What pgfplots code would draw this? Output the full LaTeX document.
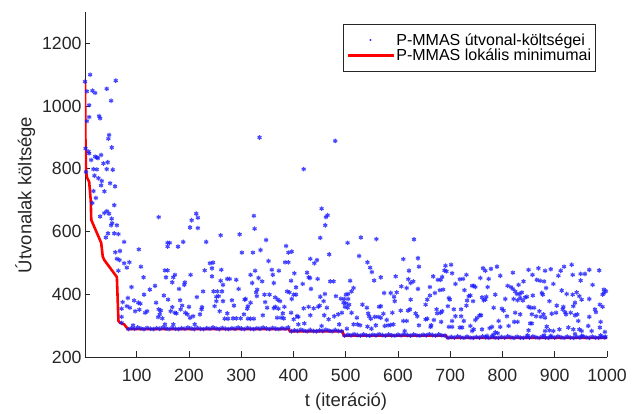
\documentclass[border=0pt]{standalone}
\usepackage{fontspec}
\setmainfont{Liberation Sans}
\usepackage{pgfplots}
\pgfplotsset{compat=1.18}
\definecolor{axgray}{RGB}{38,38,38}
\definecolor{ptblue}{RGB}{25,25,255}

\begin{document}
\begin{tikzpicture}
\begin{axis}[
    scale only axis,
    width=522pt, height=345pt,
    xmin=1, xmax=1000, ymin=200, ymax=1300,
    xtick={100,200,...,1000},
    ytick={200,400,...,1200},
    axis x line*=bottom, axis y line*=left,
    axis line style={-, draw=axgray, line width=0.9pt},
    tick align=inside,
    major tick length=5.5pt,
    tick style={draw=axgray, line width=0.9pt},
    /pgf/number format/assume math mode=true,
    /pgf/number format/1000 sep={},
    ticklabel style={font=\fontsize{17.7}{20}\selectfont, text=axgray},
    xticklabel style={yshift=-9pt},
    label style={font=\fontsize{18.5}{22}\selectfont, text=axgray},
    xlabel={t (iteráció)},
    xlabel style={yshift=-4pt},
    ylabel={Útvonalak költsége},
    ylabel style={at={(ticklabel cs:0.47)}},
    legend style={at={(1,1)}, anchor=north east, xshift=-11pt, yshift=-12pt,
        draw=axgray, line width=0.6pt, fill=white,
        font=\fontsize{16}{18}\selectfont,
        inner xsep=3pt, inner ysep=7.5pt, row sep=-1pt,
        nodes={inner sep=1.6pt}},
    legend cell align=left,
]
% path costs
\addplot[only marks, mark=asterisk, mark size=2.3pt, draw=ptblue, line width=1.1pt, opacity=0.8,
    legend image code/.code={\path[draw=none, fill=none] (0pt,0pt) -- (46pt,0pt); \fill[blue, draw=none] (23pt,0pt) circle (1.1pt);}]
coordinates {
(1,1078) (2,865) (3,790)
(10.9,1100) (59.8,1081) (15.3,1049) (20.4,1042) (4.5,1047) (42.6,1055) (50.9,1017) (9,1003)
(28,968) (29.9,961) (9,965) (4.5,952) (47.1,908) (45.8,896) (52.2,868) (7.7,855) (9,849)
(12.8,828) (23.6,836) (20.4,839) (25.5,834) (31.8,844) (36.3,817) (44.5,821)
(17.2,799) (23.6,798) (42.6,799) (54.1,797) (19.1,778) (26.8,770) (33.1,761) (31.8,747)
(49,754) (58.5,744) (38.2,728) (17.2,729) (21.7,707)
(335,900) (419.5,799) (479.9,889)
(15,691) (57,684) (30,648) (38,659) (43,665) (47,657) (52,641) (51,620) (53,627) (62,620)
(45,594) (41,581) (57,594) (65,592) (76,567) (59,534) (68,538) (62,513) (67,509) (76,499)
(86,502) (81,485) (65,475) (104,543) (108,488) (142,646) (113,454) (90,423) (83,388) (73,375)
(95,380) (103,373) (107,370) (71,354) (81,362) (87,357) (97,346) (105,351) (116,341) (120,346)
(71,328) (71,309) (93,301) (114,399) (125,415) (135,427) (137,373) (152,396) (160,383) (142,352)
(146,348) (141,327) (149,323) (154,304) (144,336) (159,564) (163,564) (159,552) (179,552) (189,567)
(154,476) (159,476) (156,454) (168,438) (170,454) (173,462) (181,417) (191,430) (192,438) (203,462)
(215,391) (168,359) (165,346) (183,381) (187,364) (184,352) (193,341) (197,336) (202,325) (208,330)
(200,360) (173,341) (176,339) (170,304) (211,304) (224,352) (221,336) (225,359) (227,409) (214,657)
(217,644) (205,636) (202,613) (217,611) (233,567) (240,499) (246,501) (244,483) (230,476) (244,457)
(247,409) (249,362)
(364.9,390) (369.9,383) (374.4,378) (365.5,360) (371.2,354) (362.3,356) (382.7,360) (379.5,339)
(368.7,325) (376.3,325) (381.4,323) (401.7,467) (395.4,443) (404.9,422) (417.6,433) (425.9,469)
(429,454) (431.6,452) (387.7,409) (392.2,406) (400.4,399) (404.9,399) (396.6,385) (395.4,341)
(406.8,330) (409.3,328) (400.4,320) (409.3,304) (420.8,307) (419.5,355) (429,360) (438.6,355)
(447.5,360) (450,364) (433.5,417) (446.2,449) (432.2,333) (458.9,333) (467.2,320) (453.8,299)
(460.2,401) (451.3,392) (457.6,378) (464,357) (470.4,441) (476.7,441) (481.2,394) (490.7,386)
(495.8,373) (492.6,341) (485.6,336) (478,330) (487.5,304)
(260.6,588) (296.9,591) (324.2,650) (325.5,609) (301.3,533) (322.3,533) (336.9,541) (347.7,573)
(352.2,506) (385.8,554) (390.3,533) (396.6,536) (383.9,502) (390.3,502) (453.8,673) (462.1,646)
(465.3,652) (460.8,620) (451.3,580) (468.4,527) (432.2,513) (439.9,499) (444.9,509) (261.9,478)
(260.6,443) (265.1,430) (254.3,409) (263.2,409) (273.3,449) (277.8,449) (290.5,446) (295,417)
(252.4,392) (256.8,394) (252.4,378) (258.7,346) (265.1,378) (282.2,381) (286.1,364) (273.3,339)
(268.3,322) (274.6,322) (284.2,323) (290.5,323) (298.8,323) (306.4,383) (308.3,385) (312.8,362)
(311.5,354) (317.8,373) (305.1,336) (312.8,322) (317.8,322) (317.8,462) (326.7,475) (333.1,452)
(340.1,441) (330.5,415) (328.6,406) (329.9,394) (321,436) (324.2,322) (341.3,333) (344.5,399)
(354.1,399) (345.8,375) (349.6,357) (358.5,478) (360.4,462) (362.3,436) (371.9,475)
(503.5,564) (528.9,581) (558.7,576) (630.6,575) (525.7,522) (541.6,502) (546.7,485) (549.9,471)
(554.3,444) (567,454) (508.5,443) (514.9,420) (511.1,409) (504.7,401) (500.3,399) (497.1,385)
(504.7,385) (500.3,371) (506.6,367) (503.5,357) (498.4,360) (511.1,341) (521.3,325) (514.9,304)
(522.5,304) (527.6,301) (502.2,290) (532,367) (540.3,357) (542.9,339) (544.8,330) (547.9,322)
(541.6,297) (549.2,290) (555.6,328) (561.9,328) (567,325) (557.5,301) (563.8,360) (567,362)
(572.1,338) (578.4,318) (574.6,299) (581,301) (586,302) (591.2,304) (589.2,341) (573.4,404)
(586.1,404) (592.4,392) (597.5,406) (593.7,378) (595.6,457) (606.4,425) (610.2,512) (616.6,420)
(619.8,448) (624.2,436) (629.3,441) (621,475) (638.2,515) (640.1,488) (638.2,417) (605.1,348)
(610.2,315) (616.6,315) (612.8,283) (624.2,383) (619.1,348) (622.9,352) (633.7,339) (636.9,330)
(640.1,301) (652.8,320) (656,322) (652.8,367) (656,383) (661.1,396) (661.1,423) (667.4,457)
(670.6,404) (673.8,352) (676.3,446) (681.4,446) (684.6,455) (680.1,413) (681.4,341) (663.6,301)
(662.3,296) (668.7,318) (675,339) (686.5,415) (689,476) (690.9,491) (692.8,473) (701.7,494)
(703.6,467) (710,433) (718.3,448) (724.6,449) (727.2,413) (731,462) (735.4,394) (741.8,427)
(738.6,396) (731,364) (720.8,352) (706.8,352) (697.3,388) (699.2,383) (695.4,362) (703.6,315)
(710,330) (703.6,296) (697.3,296) (684.6,346) (682.7,312) (720.8,330) (722.7,294) (718.3,294)
(738.6,299) (741.8,283) (725.9,315) (743.7,378) (732.2,380)
(762.7,483) (767.1,475) (777.9,481) (789.4,488) (795.7,459) (757.6,452) (773.5,449) (744.9,427)
(748.1,423) (771.6,423) (760.8,390) (764,381) (769,392) (767.1,383) (786.2,399) (783,357)
(798.9,354) (802.1,348) (792.6,315) (808.5,330) (811.6,299) (795.7,296) (779.9,296) (775.4,292)
(760.8,288) (751.3,325) (756.3,333) (758.9,333) (748.1,318) (744.9,288) (786.2,278) (790.7,276)
(781.8,270) (770.3,267) (819.9,469) (805.3,385) (809.7,427) (816.1,423) (819.9,417) (824.3,409)
(830.7,430) (840.2,441) (827.5,401) (832.6,401) (837,406) (833.9,388) (843.4,390) (846.6,392)
(821.2,385) (828.8,381) (839,380) (824.3,341) (833.9,336) (828.8,312) (822.4,312) (849.8,478)
(857.4,462) (868.8,483) (881.5,475) (892.3,480) (907,459) (911.4,475) (917.8,488) (932.4,494)
(934.3,462) (949.5,465) (957.8,465) (966.1,478) (985.1,476) (949.5,444) (972.4,430) (994,415)
(865.6,446) (872,443) (879.6,441) (883.4,420) (877.1,399) (897.4,433) (875.2,404) (913.3,412)
(922.8,401) (934.3,399) (941.9,406) (947,394) (951.4,383) (966.1,385) (991.5,399) (858,396)
(889.8,378) (903.8,364) (916.5,360) (938.7,373) (935.6,362) (930.5,341) (943.2,336) (919.7,343)
(921.6,336) (902.5,341) (894.2,338) (878.4,336) (870.7,346) (873.3,328) (864.4,330) (856.1,336)
(854.2,357) (860.6,357) (849.8,360) (881.5,325) (884.7,297) (897.4,283) (908.9,288) (926,294)
(935.6,288) (947,288) (951.4,283) (964.1,299) (986.4,294) (987.7,312) (976.9,352) (986.4,367)
(991.5,360) (994,404) (978.8,343) (966.1,328) (945.1,315) (915.2,352) (938.7,333) (853,307)
(856.1,307) (849.8,285) (881.5,283) (889.8,285) (892.3,267) (879.6,269) (938.7,273) (951.4,267)
(970.5,283) (987.7,269) (847.9,269) (998,410) (997,265) (996,280)
(84,289) (90,292) (96,290) (102,294) (108,291) (114,289) (120,293) (126,290) (132,289) (138,292)
(144,290) (150,294) (156,291) (162,289) (168,293) (174,290) (180,289) (186,292) (192,290) (198,294)
(204,291) (210,289) (216,293) (222,290) (228,289) (234,292) (240,290) (246,294) (252,291) (258,289)
(264,293) (270,290) (276,289) (282,292) (288,290) (294,294) (300,291) (306,289) (312,293) (318,290)
(324,289) (330,292) (336,290) (342,294) (348,291) (354,289) (360,293) (366,290) (372,289) (378,292)
(384,290) (390,294)
(396,282) (402,285) (408,283) (414,287) (420,284) (426,282) (432,286) (438,283) (444,282) (450,285)
(456,283) (462,287) (468,284) (474,282) (480,286) (486,283) (492,282)
(498,268) (504,271) (510,269) (516,273) (522,270) (528,268) (534,272) (540,269) (546,268) (552,271)
(558,269) (564,273) (570,270) (576,268) (582,272) (588,269) (594,268) (600,271) (606,269) (612,273)
(618,270) (624,268) (630,272) (636,269) (642,268) (648,271) (654,269) (660,273) (666,270) (672,268)
(678,272) (684,269) (690,268)
(696,261) (702,264) (708,262) (714,266) (720,263) (726,261) (732,265) (738,262) (744,261) (750,264)
(756,262) (762,266) (768,263) (774,261) (780,265) (786,262) (792,261) (798,264) (804,262) (810,266)
(816,263) (822,261) (828,265) (834,262) (840,261) (846,264) (852,262) (858,266) (864,263) (870,261)
(876,265) (882,262) (888,261) (894,264) (900,262) (906,266) (912,263) (918,261) (924,265) (930,262)
(936,261) (942,264) (948,262) (954,266) (960,263) (966,261) (972,265) (978,262) (984,261) (990,264)
(996,262)
};
\addlegendentry{P-MMAS útvonal-költségei}
% running minimum
\addplot[red, line width=2.6pt, line join=round,
    legend image code/.code={\draw[red, line width=2.6pt] (0pt,0pt) -- (46pt,0pt);}]
coordinates {
(1,1078) (2,865) (3,790) (5,772) (9,758) (12,699) (13,637) (32,564) (35,520) (38,509)
(62,455) (65,315) (68,309) (76,304) (83,289) (391,289) (393,282) (494,282) (496,268)
(692,268) (694,261) (1000,261)
};
\addlegendentry{P-MMAS lokális minimumai}
\end{axis}
\pgfresetboundingbox
\path[use as bounding box] ([xshift=-85pt,yshift=-57pt]current axis.south west) rectangle ([xshift=29pt,yshift=12pt]current axis.north east);
\end{tikzpicture}
\end{document}
